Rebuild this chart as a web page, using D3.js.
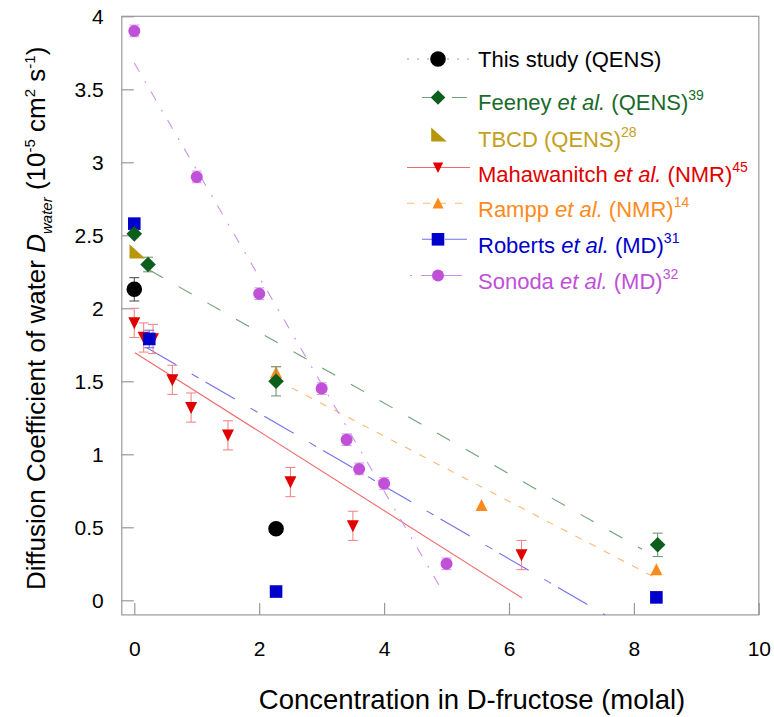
<!DOCTYPE html>
<html><head><meta charset="utf-8">
<script src="https://cdn.jsdelivr.net/npm/d3@7"></script>
<style>
html,body{margin:0;padding:0;background:#fff;}
svg{display:block;font-family:"Liberation Sans",Arial,Helvetica,sans-serif;}
</style></head>
<body><svg id="chart" width="774" height="717"></svg>
<script>
// ---------- data ----------
const xTicks = [0, 2, 4, 6, 8, 10];
const yTicks = [0, 0.5, 1, 1.5, 2, 2.5, 3, 3.5, 4];

const thisStudyX = [0, 2.27];
const thisStudyY = [2.13, 0.49];
const thisStudyErr = [0.08, 0];

const feeneyX = [0, 0.22, 2.27, 8.38];
const feeneyY = [2.51, 2.30, 1.50, 0.38];
const feeneyErr = [0, 0.05, 0.10, 0.08];
const feeneyFitX = [0.25, 8.13];
const feeneyFitY = [2.26, 0.35];

const tbcdX = [0];
const tbcdY = [2.39];

const mahaX = [0, 0.15, 0.30, 0.61, 0.91, 1.5, 2.5, 3.5, 6.2];
const mahaY = [1.90, 1.80, 1.79, 1.51, 1.32, 1.13, 0.81, 0.51, 0.31];
const mahaErr = [0.10, 0.10, 0.10, 0.10, 0.10, 0.10, 0.10, 0.10, 0.10];
const mahaFitX = [0.01, 6.21];
const mahaFitY = [1.695, 0.016];

const ramppX = [2.27, 5.56, 8.36];
const ramppY = [1.56, 0.65, 0.21];
const ramppErr = [0.04, 0, 0];
const ramppFitX = [2.52, 8.32];
const ramppFitY = [1.455, 0.16];

const robertsX = [0, 0.24, 2.27, 8.36];
const robertsY = [2.58, 1.79, 0.06, 0.02];
const robertsErr = [0, 0.06, 0, 0];
const robertsFitX = [0.2, 7.54];
const robertsFitY = [1.73, -0.1];

const sonodaX = [0, 1.0, 2.0, 3.0, 3.4, 3.6, 4.0, 5.0];
const sonodaY = [3.90, 2.90, 2.10, 1.45, 1.10, 0.90, 0.80, 0.25];
const sonodaErr = [0.04, 0.04, 0.04, 0.04, 0.04, 0.04, 0.04, 0.04];
const sonodaFitX = [0, 4.94];
const sonodaFitY = [3.68, 0.06];

// ---------- layout ----------
const svg = d3.select("#chart");
const x = d3.scaleLinear().domain([-0.2, 10]).range([121.8, 758.8]);
const y = d3.scaleLinear().domain([-0.1, 4.0]).range([614.9, 16.3]);
const axisColor = "#999";

// frame
svg.append("rect").attr("x", x(-0.2)).attr("y", y(4)).attr("width", x(10) - x(-0.2))
  .attr("height", y(-0.1) - y(4)).attr("fill", "none").attr("stroke", axisColor).attr("stroke-width", 1.2);

// axes with inward ticks
const xAxis = d3.axisBottom(x).tickValues(xTicks).tickSize(-12).tickPadding(30).tickFormat(d3.format("d"));
const gx = svg.append("g").attr("transform", `translate(0,${y(-0.1)})`).call(xAxis);
gx.select(".domain").remove();
gx.selectAll(".tick line").attr("stroke", axisColor).attr("stroke-width", 1.2);
gx.selectAll(".tick text").attr("font-size", 21).attr("fill", "#000")
  .attr("font-family", "Liberation Sans, Arial, sans-serif").attr("dy", "0").attr("y", 41);

const yAxis = d3.axisLeft(y).tickValues(yTicks).tickSize(-12).tickPadding(18)
  .tickFormat(d => d3.format("~g")(d));
const gy = svg.append("g").attr("transform", `translate(${x(-0.2)},0)`).call(yAxis);
gy.select(".domain").remove();
gy.selectAll(".tick line").attr("stroke", axisColor).attr("stroke-width", 1.2);
gy.selectAll(".tick text").attr("font-size", 21).attr("fill", "#000")
  .attr("font-family", "Liberation Sans, Arial, sans-serif").attr("dy", "0.36em");

// axis titles
svg.append("text").attr("x", 472).attr("y", 709).attr("text-anchor", "middle")
  .attr("font-size", 27.5).attr("fill", "#000").text("Concentration in D-fructose (molal)");

const yt = svg.append("text").attr("transform", "translate(45,590) rotate(-90)")
  .attr("font-size", 26).attr("fill", "#000");
yt.append("tspan").text("Diffusion Coefficient of water ");
yt.append("tspan").attr("font-style", "italic").text("D");
yt.append("tspan").attr("font-style", "italic").attr("font-size", 15).attr("dy", 7).text("water");
yt.append("tspan").attr("dy", -7).text(" (10");
yt.append("tspan").attr("font-size", 15).attr("dy", -10).text("-5");
yt.append("tspan").attr("dy", 10).text(" cm");
yt.append("tspan").attr("font-size", 15).attr("dy", -10).text("2");
yt.append("tspan").attr("dy", 10).text(" s");
yt.append("tspan").attr("font-size", 15).attr("dy", -10).text("-1");
yt.append("tspan").attr("dy", 10).text(")");

// ---------- marker shapes ----------
function shapePath(type, s) {
  const p = d3.path();
  if (type === "circle") { p.arc(0, 0, s, 0, 2 * Math.PI); }
  else if (type === "diamond") { p.moveTo(0, -s); p.lineTo(s, 0); p.lineTo(0, s); p.lineTo(-s, 0); p.closePath(); }
  else if (type === "square") { p.rect(-s, -s, 2 * s, 2 * s); }
  else if (type === "tri-up") { p.moveTo(0, -s * 1.05); p.lineTo(s, s * 0.95); p.lineTo(-s, s * 0.95); p.closePath(); }
  else if (type === "tri-down") { p.moveTo(-s, -s * 0.95); p.lineTo(s, -s * 0.95); p.lineTo(0, s * 1.05); p.closePath(); }
  else if (type === "tri-right") { p.moveTo(-s, -s * 0.9); p.lineTo(s, s * 0.9); p.lineTo(-s, s * 0.9); p.closePath(); }
  return p.toString();
}

const series = [
  { name: "maha", xs: mahaX, ys: mahaY, err: mahaErr, fx: mahaFitX, fy: mahaFitY, color: "#E00000", line: "#F06A6A", dash: null, errColor: "#F08A8A", shape: "tri-down", size: 6 },
  { name: "rampp", xs: ramppX, ys: ramppY, err: ramppErr, fx: ramppFitX, fy: ramppFitY, color: "#FF8A1C", line: "#FFB870", dash: "7,9", errColor: "#FFB070", shape: "tri-up", size: 6 },
  { name: "roberts", xs: robertsX, ys: robertsY, err: robertsErr, fx: robertsFitX, fy: robertsFitY, color: "#0000CC", line: "#7070F0", dash: "34,18,8,8", errColor: "#7070E0", shape: "square", size: 6.3 },
  { name: "feeney", xs: feeneyX, ys: feeneyY, err: feeneyErr, fx: feeneyFitX, fy: feeneyFitY, color: "#0B5E1C", line: "#6FA078", dash: "15,18", errColor: "#6F9A74", shape: "diamond", size: 7.8 },
  { name: "sonoda", xs: sonodaX, ys: sonodaY, err: sonodaErr, fx: sonodaFitX, fy: sonodaFitY, color: "#C050D8", line: "#C890EE", dash: "10,11,2,10", errColor: "#D8A0E8", shape: "circle", size: 6 },
  { name: "tbcd", xs: tbcdX, ys: tbcdY, err: [0], fx: null, fy: null, color: "#B8960C", line: null, dash: null, errColor: "#B8960C", shape: "tri-right", size: 7.8 },
  { name: "this", xs: thisStudyX, ys: thisStudyY, err: thisStudyErr, fx: null, fy: null, color: "#000000", line: "#999", dash: "2,8", errColor: "#555", shape: "circle", size: 7.8 },
];

const lineGen = d3.line().x(d => x(d[0])).y(d => y(d[1]));

// fit lines
series.forEach(s => {
  if (!s.fx) return;
  const pts = s.fx.map((v, i) => [v, s.fy[i]]);
  svg.append("path").attr("d", lineGen(pts)).attr("fill", "none")
    .attr("stroke", s.line).attr("stroke-width", 1.1)
    .attr("stroke-dasharray", s.dash);
});

// error bars + markers
series.forEach(s => {
  const g = svg.append("g");
  const data = s.xs.map((v, i) => ({ x: v, y: s.ys[i], e: s.err[i] || 0 }));
  data.filter(d => d.e > 0).forEach(d => {
    const cx = x(d.x), y0 = y(d.y - d.e), y1 = y(d.y + d.e);
    g.append("line").attr("x1", cx).attr("x2", cx).attr("y1", y0).attr("y2", y1).attr("stroke", s.errColor).attr("stroke-width", 1.1);
    [y0, y1].forEach(yy => g.append("line").attr("x1", cx - 5).attr("x2", cx + 5).attr("y1", yy).attr("y2", yy).attr("stroke", s.errColor).attr("stroke-width", 1.1));
  });
  g.selectAll("path.m").data(data).join("path").attr("class", "m")
    .attr("transform", d => `translate(${x(d.x) + (s.shape === "tri-right" ? 3 : 0)},${y(d.y)})`)
    .attr("d", shapePath(s.shape, s.size)).attr("fill", s.color);
});

// ---------- legend ----------
const legend = [
  { key: "this", pre: "This study ", it: "", post: "(QENS)", sup: "", color: "#000", my: 59, ty: 67, lx0: 407, lx1: 470, shape: "circle", size: 7.8, dash: "2,8" },
  { key: "feeney", pre: "Feeney ", it: "et al.", post: " (QENS)", sup: "39", color: "#1A6B2A", my: 97.5, ty: 110, lx0: 422, lx1: 467, shape: "diamond", size: 7.3, dash: "11,19,15" },
  { key: "tbcd", pre: "TBCD (QENS)", it: "", post: "", sup: "28", color: "#C4A020", my: 134.5, ty: 146.5, lx0: null, lx1: null, shape: "tri-right", size: 7.8, dash: null },
  { key: "maha", pre: "Mahawanitch ", it: "et al.", post: " (NMR)", sup: "45", color: "#E00000", my: 167.5, ty: 181.5, lx0: 407, lx1: 470, shape: "tri-down", size: 5.2, dash: null },
  { key: "rampp", pre: "Rampp ", it: "et al.", post: " (NMR)", sup: "14", color: "#FF8A1C", my: 203.3, ty: 216.5, lx0: 407, lx1: 470, shape: "tri-up", size: 5.5, dash: "7,9" },
  { key: "roberts", pre: "Roberts ", it: "et al.", post: " (MD)", sup: "31", color: "#0000CC", my: 239.3, ty: 252.5, lx0: 422, lx1: 467, shape: "square", size: 6.3, dash: "11,12,22" },
  { key: "sonoda", pre: "Sonoda ", it: "et al.", post: " (MD)", sup: "32", color: "#C050D8", my: 275.5, ty: 289, lx0: 410, lx1: 462, shape: "circle", size: 6, dash: "2,9,12,10,19" },
];
const lg = svg.append("g");
legend.forEach(L => {
  const s = series.find(q => q.name === L.key);
  if (L.lx0 !== null) {
    lg.append("line").attr("x1", L.lx0).attr("x2", L.lx1).attr("y1", L.my).attr("y2", L.my)
      .attr("stroke", s.line).attr("stroke-width", 1.1).attr("stroke-dasharray", L.dash);
  }
  lg.append("path").attr("transform", `translate(${438 + (L.shape === "tri-right" ? 1 : 0)},${L.my})`)
    .attr("d", shapePath(L.shape, L.size)).attr("fill", s.color);
  const t = lg.append("text").attr("x", 478).attr("y", L.ty).attr("font-size", 22).attr("fill", L.color);
  t.append("tspan").text(L.pre);
  if (L.it) t.append("tspan").attr("font-style", "italic").text(L.it);
  if (L.post) t.append("tspan").text(L.post);
  if (L.sup) t.append("tspan").attr("font-size", 14).attr("dy", -10).text(L.sup);
});
</script></body></html>
